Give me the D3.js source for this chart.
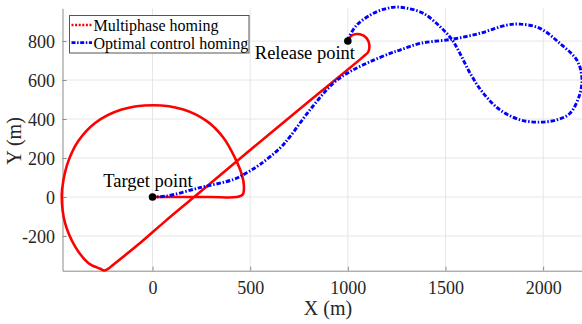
<!DOCTYPE html>
<html>
<head>
<meta charset="utf-8">
<script src="https://cdn.jsdelivr.net/npm/d3@7"></script>
<style>
  html, body { margin: 0; padding: 0; background: #fff; }
  svg text { font-family: "Liberation Serif", "Times New Roman", serif; }
</style>
</head>
<body>
<svg id="chart" width="582" height="324"></svg>
<script>
// Multiphase homing trajectory (m), from the release point to the target
const multiphaseX = [1000, 1020, 1062, 1097, 1110, 1105, 1079, 800, 500, 213, 64, -73, -201, -230, -247, -268, -329, -397, -448, -465, -457, -431, -380, -294, -158, 4, 158, 278, 363, 422, 457, 468, 462, 431, 300, 150, 0];
const multiphaseY = [800, 829, 835, 814, 780, 745, 720, 490, 241, 0, -125, -244, -347, -370, -377, -368, -338, -253, -133, 3, 82, 184, 287, 380, 449, 471, 449, 389, 304, 201, 116, 56, 13, 0, 0, 0, 0];

// Optimal control homing trajectory (m), from the release point to the target
const optimalX = [1000, 1003, 1046, 1114, 1180, 1240, 1300, 1387, 1472, 1532, 1574, 1626, 1694, 1779, 1882, 1984, 2070, 2138, 2189, 2198, 2172, 2086, 1984, 1882, 1814, 1677, 1532, 1370, 1267, 1216, 1114, 1011, 926, 806, 704, 653, 550, 482, 414, 243, 73, 0];
const optimalY = [800, 814, 882, 933, 962, 974, 969, 942, 874, 809, 737, 635, 532, 447, 396, 384, 396, 430, 532, 617, 703, 788, 865, 887, 882, 840, 809, 788, 754, 737, 694, 643, 584, 447, 310, 251, 167, 124, 90, 48, 5, 0];

const seriesNames = ["Multiphase homing", "Optimal control homing"];
const xTicks = [0, 500, 1000, 1500, 2000];
const yTicks = [-200, 0, 200, 400, 600, 800];

// Marked points
const pointNames = ["Target point", "Release point"];
const pointX = [0, 1000];
const pointY = [0, 800];

const serif = '"Liberation Serif", "Times New Roman", serif';
const svg = d3.select("#chart");
const plotLeft = 62.5, plotRight = 582, plotTop = 8.3, plotBottom = 270.7;

const x = d3.scaleLinear().domain([-461, 2199]).range([plotLeft, plotRight]);
const y = d3.scaleLinear().domain([-378, 968]).range([plotBottom, plotTop]);

// Grid
const grid = svg.append("g").attr("stroke", "#e6e6e6").attr("stroke-width", 1);
grid.selectAll("line.vx").data(xTicks).join("line")
  .attr("x1", d => x(d)).attr("x2", d => x(d)).attr("y1", plotTop).attr("y2", plotBottom);
grid.selectAll("line.hy").data(yTicks).join("line")
  .attr("y1", d => y(d)).attr("y2", d => y(d)).attr("x1", plotLeft).attr("x2", plotRight);

// Axes with inward ticks
const xAxis = svg.append("g").attr("transform", `translate(0,${plotBottom})`)
  .call(d3.axisBottom(x).tickValues(xTicks).tickFormat(d => String(d))
    .tickSizeInner(-4).tickSizeOuter(0).tickPadding(10.5));
const yAxis = svg.append("g").attr("transform", `translate(${plotLeft},0)`)
  .call(d3.axisLeft(y).tickValues(yTicks).tickFormat(d => String(d))
    .tickSizeInner(-4).tickSizeOuter(0).tickPadding(7.5));
[xAxis, yAxis].forEach(a => {
  a.attr("font-family", serif).attr("font-size", 18);
  a.select(".domain").attr("stroke", "#8c8c8c").attr("stroke-width", 1);
  a.selectAll(".tick line").attr("stroke", "#8c8c8c");
  a.selectAll(".tick text").attr("fill", "#262626");
});
yAxis.selectAll(".tick text").attr("dy", "0.34em");

// Axis titles
svg.append("text").attr("x", 328).attr("y", 315).attr("text-anchor", "middle")
  .attr("fill", "#262626").attr("font-size", 20).text("X (m)");
svg.append("text").attr("transform", "translate(21,141) rotate(-90)").attr("text-anchor", "middle")
  .attr("fill", "#262626").attr("font-size", 20).text("Y (m)");

// Trajectories
const line = d3.line().x(d => x(d[0])).y(d => y(d[1])).curve(d3.curveCatmullRom.alpha(0.5));
const plot = svg.append("g");
plot.append("path").datum(d3.zip(multiphaseX, multiphaseY)).attr("d", line)
  .attr("fill", "none").attr("stroke", "#ff0000").attr("stroke-width", 2.6)
  .attr("stroke-linejoin", "round");
plot.append("path").datum(d3.zip(optimalX, optimalY)).attr("d", line)
  .attr("fill", "none").attr("stroke", "#0000ff").attr("stroke-width", 2.9)
  .attr("stroke-dasharray", "4.5,1.8,1.5,1.8");

// Marked points and labels
plot.selectAll("circle").data(d3.zip(pointX, pointY)).join("circle")
  .attr("cx", d => x(d[0])).attr("cy", d => y(d[1])).attr("r", 3.8).attr("fill", "#000");
svg.append("text").attr("x", 103.3).attr("y", 186.5).attr("fill", "#000")
  .attr("font-size", 18.5).text(pointNames[0]);
svg.append("text").attr("x", 355).attr("y", 59).attr("text-anchor", "end").attr("fill", "#000")
  .attr("font-size", 18.5).text(pointNames[1]);

// Legend
const legend = svg.append("g");
legend.append("rect").attr("x", 69.5).attr("y", 15.5).attr("width", 179.5).attr("height", 37.5)
  .attr("fill", "#fff").attr("stroke", "#555").attr("stroke-width", 1);
const legendColors = ["#ff0000", "#0000ff"];
const legendDash = ["2,1.6", "4,1.6,1.5,1.6"];
seriesNames.forEach((name, i) => {
  const ly = 25 + i * 17.6;
  legend.append("line").attr("x1", 71.5).attr("x2", 92).attr("y1", ly).attr("y2", ly)
    .attr("stroke", legendColors[i]).attr("stroke-width", 2.6).attr("stroke-dasharray", legendDash[i]);
  legend.append("text").attr("x", 93.5).attr("y", ly + 6.2).attr("fill", "#000")
    .attr("font-size", 16).text(name);
});
</script>
</body>
</html>
